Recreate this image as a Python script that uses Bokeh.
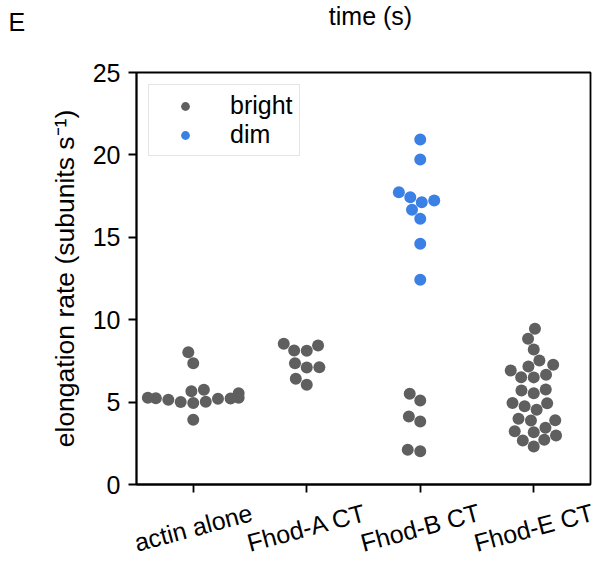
import numpy as np
from bokeh.plotting import figure
from bokeh.layouts import column
from bokeh.models import (Range1d, FixedTicker, Legend, LegendItem, ColumnDataSource,
                          CustomLabelingPolicy)
from bokeh.core.properties import value
from bokeh.embed import file_html
from bokeh.resources import INLINE

# ---------------- data ----------------
categories = ["actin alone", "Fhod-A CT", "Fhod-B CT", "Fhod-E CT"]
actin_alone = [8.03, 7.36, 5.75, 5.66, 5.54, 5.26, 5.14, 5.00, 4.94, 5.02, 5.20, 5.22, 5.24, 5.27, 3.93]
fhod_a_ct = [8.54, 8.13, 8.11, 8.43, 7.12, 7.10, 7.36, 6.41, 6.05]
fhod_b_ct_bright = [5.50, 5.10, 4.13, 3.82, 2.11, 2.02]
fhod_b_ct_dim = [20.93, 19.72, 17.43, 17.13, 17.23, 17.74, 16.67, 16.12, 14.61, 12.42]
fhod_e_ct = [9.45, 8.84, 8.19, 7.52, 6.92, 7.16, 7.26, 6.51, 6.50, 6.66, 5.70, 5.54, 5.76,
             4.75, 4.53, 4.93, 4.95, 3.88, 3.90, 3.99, 3.17, 2.67, 2.97, 2.31, 2.71, 3.23, 3.44]
y_ticks = [0, 5, 10, 15, 20, 25]
hue_labels = ["bright", "dim"]
colors = {"bright": "#5f5f5f", "dim": "#3b80e4"}
y_label = "elongation rate (subunits s\u207b\u00b9)"
panel_letter = "E"
top_text = "time (s)"

groups = [
    (actin_alone, ["bright"] * len(actin_alone)),
    (fhod_a_ct, ["bright"] * len(fhod_a_ct)),
    (fhod_b_ct_bright + fhod_b_ct_dim, ["bright"] * len(fhod_b_ct_bright) + ["dim"] * len(fhod_b_ct_dim)),
    (fhod_e_ct, ["bright"] * len(fhod_e_ct)),
]

# ---------------- layout ----------------
W, H = 595, 563
TOP_H = 36                       # strip above: panel letter and the cut "time (s)" text
BL, BR, BT, BB = 136, 5, 36, 14  # main figure borders
FRAME_W = W - BL - BR
FRAME_H = 412
MAIN_H = BT + FRAME_H + BB
BOT_H = H - TOP_H - MAIN_H       # strip below: rotated, centred category labels
X0, X1 = -0.5, len(categories) - 0.5
Y0, Y1 = 0, 25
XPX = FRAME_W / (X1 - X0)
YPX = FRAME_H / (Y1 - Y0)
MARKER_D = 12.0
FONT = "Liberation Sans"
FS = "25px"


def beeswarm(values, center, width=0.8):
    """seaborn-like swarm layout computed in screen pixels"""
    vals = np.asarray(values, float)
    n = len(vals)
    order = np.argsort(vals, kind="stable")
    r = MARKER_D / 2
    pts = np.column_stack([np.full(n, center * XPX), vals * YPX, np.full(n, r)])[order]
    midline = pts[0, 0]
    swarm = [pts[0]]
    for p in pts[1:]:
        neigh = []
        for q in reversed(swarm):
            if p[1] - q[1] < p[2] + q[2]:
                neigh.append(q)
            else:
                break
        neigh = neigh[::-1]
        cands = [p.copy()]
        left_first = True
        for q in neigh:
            dy = p[1] - q[1]
            dx = np.sqrt(max((p[2] + q[2]) ** 2 - dy ** 2, 0)) * 1.05
            cl = np.array([q[0] - dx, p[1], p[2]])
            cr = np.array([q[0] + dx, p[1], p[2]])
            cands.extend([cl, cr] if left_first else [cr, cl])
            left_first = not left_first
        cands = sorted(cands, key=lambda c: abs(c[0] - midline))
        chosen = cands[-1]
        if neigh:
            nb = np.array(neigh)
            for c in cands:
                d2 = (nb[:, 0] - c[0]) ** 2 + (nb[:, 1] - c[1]) ** 2
                if np.all(d2 >= (nb[:, 2] + c[2]) ** 2 - 1e-9):
                    chosen = c
                    break
        else:
            chosen = cands[0]
        swarm.append(chosen)
    swarm = np.array(swarm)
    xs = np.empty(n)
    xs[order] = swarm[:, 0] / XPX
    half = width / 2
    return np.clip(xs, center - half, center + half)


data = {h: {"x": [], "y": []} for h in hue_labels}
for i, (vals, hues) in enumerate(groups):
    xs = beeswarm(vals, i)
    for xv, yv, hv in zip(xs, vals, hues):
        data[hv]["x"].append(float(xv))
        data[hv]["y"].append(float(yv))


def strip_figure(height, x_range, y_range):
    f = figure(width=W, height=height, output_backend="svg", toolbar_location=None,
               x_range=x_range, y_range=y_range, x_axis_location=None, y_axis_location=None,
               min_border=0, min_border_left=0, min_border_right=0, min_border_top=0,
               min_border_bottom=0, background_fill_color="white", border_fill_color="white",
               frame_align=False)
    f.grid.visible = False
    f.outline_line_color = None
    f.title = None
    return f


# ---------------- top strip ----------------
top = strip_figure(TOP_H, Range1d(0, W), Range1d(0, TOP_H))
top.text(x=[8], y=[TOP_H - 21], text=[panel_letter], text_font=value(FONT), text_font_size=FS,
         text_baseline="middle", text_align="left", text_color="black")
top.text(x=[370], y=[TOP_H - 15], text=[top_text], text_font=value(FONT),
         text_font_size=FS, text_baseline="middle", text_align="center", text_color="black")

# ---------------- main figure ----------------
p = figure(width=W, height=MAIN_H, output_backend="svg", toolbar_location=None,
           x_range=Range1d(X0, X1), y_range=Range1d(Y0, Y1),
           min_border_left=BL, min_border_right=BR, min_border_top=BT, min_border_bottom=BB,
           background_fill_color="white", border_fill_color="white")
p.xgrid.visible = False
p.ygrid.visible = False
p.outline_line_color = "black"
p.outline_line_width = 1.8
p.outline_line_alpha = 1.0

renderers = {}
for h in hue_labels:
    src = ColumnDataSource(data[h])
    renderers[h] = p.scatter("x", "y", source=src, size=MARKER_D, marker="circle",
                             fill_color=colors[h], line_color=None)

for ax in (p.xaxis[0], p.yaxis[0]):
    ax.axis_line_color = "black"
    ax.axis_line_width = 1.8
    ax.major_tick_line_color = "black"
    ax.major_tick_line_width = 1.8
    ax.major_tick_out = 8
    ax.major_tick_in = 0
    ax.minor_tick_line_color = None
    ax.major_label_text_font = FONT
    ax.major_label_text_color = "black"

p.yaxis.ticker = FixedTicker(ticks=y_ticks)
p.yaxis.major_label_text_font_size = FS
p.yaxis.major_label_standoff = 8
p.yaxis.axis_label = y_label
p.yaxis.axis_label_text_font = FONT
p.yaxis.axis_label_text_font_size = "26.5px"
p.yaxis.axis_label_text_font_style = "normal"
p.yaxis.axis_label_text_color = "black"
p.yaxis.axis_label_standoff = 10

# x axis: tick marks only; the category labels are drawn centred and rotated below
p.xaxis.ticker = FixedTicker(ticks=list(range(len(categories))))
p.xaxis.major_label_text_font_size = "1px"
p.xaxis.major_label_standoff = 0
p.xaxis.major_label_policy = CustomLabelingPolicy(code="for (const i of indices) indices.unset(i)")

legend = Legend(items=[LegendItem(label=h, renderers=[renderers[h]]) for h in hue_labels],
                location="top_left", margin=12, padding=6, spacing=0,
                glyph_width=60, glyph_height=22, label_standoff=15, label_height=22,
                label_text_font=FONT, label_text_font_size=FS, label_text_color="black",
                border_line_color="#cccccc", border_line_width=1.5,
                background_fill_color="white", background_fill_alpha=0.8)
p.add_layout(legend)

# ---------------- bottom strip ----------------
bottom = strip_figure(BOT_H, Range1d(X0 - BL / XPX, X1 + BR / XPX), Range1d(0, BOT_H))
bottom.text(x=list(range(len(categories))), y=[BOT_H - 29] * len(categories), text=categories,
            angle=np.radians(15), text_font=value(FONT), text_font_size=FS,
            text_align="center", text_baseline="middle", text_color="black")

layout = column(top, p, bottom, spacing=0)
open("out.html", "w").write(file_html(layout, INLINE))
